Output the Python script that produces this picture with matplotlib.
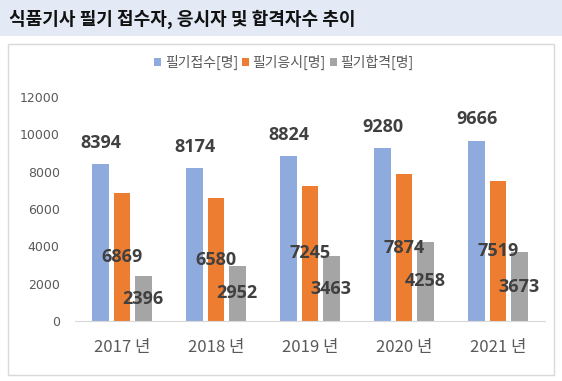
import matplotlib
matplotlib.use("Agg")
import matplotlib.pyplot as plt
import numpy as np
from matplotlib.patches import Rectangle

plt.rcParams['font.family'] = ['Noto Sans CJK KR', 'DejaVu Sans']

title = "식품기사 필기 접수자, 응시자 및 합격자수 추이"
years = ["2017 년", "2018 년", "2019 년", "2020 년", "2021 년"]
series_names = ["필기접수[명]", "필기응시[명]", "필기합격[명]"]
applied = [8394, 8174, 8824, 9280, 9666]
tested = [6869, 6580, 7245, 7874, 7519]
passed = [2396, 2952, 3463, 4258, 3673]
colors = ["#8faadc", "#ed7d31", "#a5a5a5"]

W, H = 562, 381
fig = plt.figure(figsize=(W/100, H/100), dpi=100)

# title band
fig.patches.append(Rectangle((0, 1-36/H), 1, 36/H, transform=fig.transFigure,
                             facecolor="#e3e9f5", edgecolor="none", zorder=-2))
fig.text(9/W, 1-19/H, title, fontsize=13, fontweight="bold", color="#111111",
         va="center", ha="left")
# chart border
fig.patches.append(Rectangle((8/W, 1-375/H), (554-8)/W, (375-44)/H, transform=fig.transFigure,
                             facecolor="white", edgecolor="#d9d9d9", lw=1, zorder=-2))

ax = fig.add_axes([75/W, 1-321/H, (545-75)/W, (321-97)/H])
x = np.arange(len(years))
bw = 0.18
gap = 0.047
offs = [-(bw+gap), 0, bw+gap]
data = [applied, tested, passed]
for i, (vals, c, name) in enumerate(zip(data, colors, series_names)):
    ax.bar(x + offs[i], vals, bw, color=c, label=name, zorder=2)
    for xi, v in zip(x + offs[i], vals):
        if i == 0:
            ax.text(xi, v + 650, f"{v}", ha="center", va="bottom", fontsize=13,
                    fontweight="bold", color="#404040", clip_on=False,
                    family="Open Sans")
        else:
            ax.text(xi, v/2, f"{v}", ha="center", va="center", fontsize=13,
                    fontweight="bold", color="#404040", zorder=3,
                    family="Open Sans")

ax.set_xlim(-0.5, len(years) - 0.5)
ax.set_ylim(0, 12000)
ax.set_yticks(range(0, 12001, 2000))
ax.set_yticklabels([str(v) for v in range(0, 12001, 2000)], family="DejaVu Sans")
ax.set_xticks(x)
ax.set_xticklabels(years)
for s in ["top", "right", "left"]:
    ax.spines[s].set_visible(False)
ax.spines["bottom"].set_color("#d9d9d9")
ax.tick_params(axis="y", length=0, labelsize=9, labelcolor="#595959", pad=11)
ax.tick_params(axis="x", length=0, labelsize=12, labelcolor="#595959", pad=13)
ax.patch.set_alpha(0)

leg = fig.legend(loc="center", bbox_to_anchor=(284/W, 1-62/H), ncol=3, frameon=False,
                 fontsize=10, handlelength=0.5, handleheight=0.5, handletextpad=0.25,
                 columnspacing=0.3, labelcolor="#595959")

fig.savefig("out.png", dpi=100)
